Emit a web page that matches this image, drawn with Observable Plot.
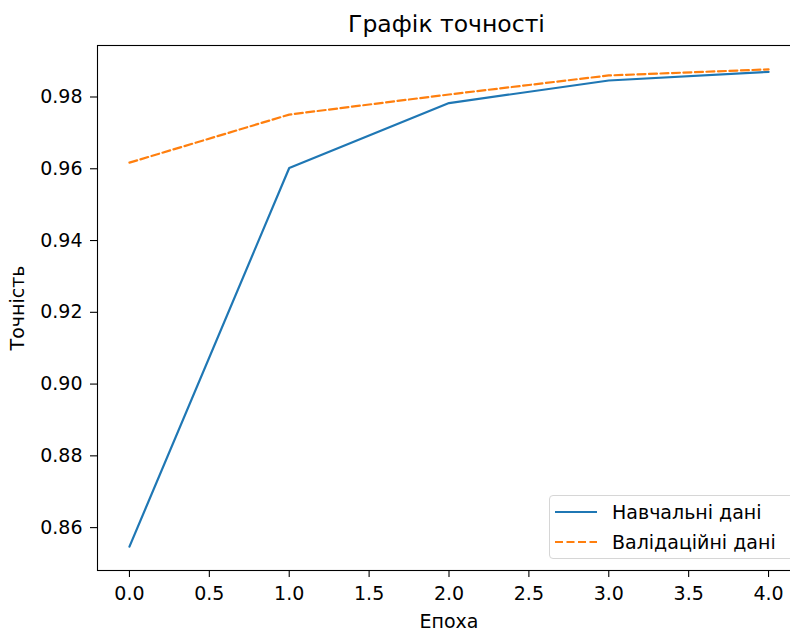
<!DOCTYPE html>
<html>
<head>
<meta charset="utf-8">
<script src="https://cdn.jsdelivr.net/npm/d3@7"></script>
<script src="https://cdn.jsdelivr.net/npm/@observablehq/plot@0.6"></script>
<style>
  html, body { margin: 0; padding: 0; overflow: hidden; background: white; width: 790px; height: 630px; }
  #wrap { position: relative; width: 800px; height: 630px; font-family: "DejaVu Sans", sans-serif; }
  #title { position: absolute; left: 95px; width: 703px; top: 10px; text-align: center; font-size: 23.5px; color: #000; }
  #chart { position: absolute; left: 0; top: 44px; }
  #legend { position: absolute; left: 549px; top: 495px; width: 250px; height: 64px; box-sizing: border-box;
            border: 1px solid #d6d6d6; border-radius: 4px; background: rgba(255,255,255,0.85); }
  .row { position: absolute; left: 0; height: 24px; display: flex; align-items: center; font-size: 19px; color: #000; white-space: nowrap; }
  .row svg { margin-left: 5px; margin-right: 15px; }
</style>
</head>
<body>
<div id="wrap">
  <div id="title"></div>
  <div id="chart"></div>
  <div id="legend"></div>
</div>
<script>
const titleText = "Графік точності";
const xLabel = "Епоха";
const yLabel = "Точність";
const seriesNames = ["Навчальні дані", "Валідаційні дані"];
const seriesColors = ["#1f77b4", "#ff7f0e"];
const epochs = [0, 1, 2, 3, 4];
const trainAcc = [0.8547, 0.9602, 0.9783, 0.9846, 0.9870];
const valAcc = [0.9617, 0.9751, 0.9807, 0.9860, 0.9877];
const xTicks = [0, 0.5, 1, 1.5, 2, 2.5, 3, 3.5, 4];
const yTicks = [0.86, 0.88, 0.90, 0.92, 0.94, 0.96, 0.98];

document.getElementById("title").textContent = titleText;

const trainRows = epochs.map((e, i) => ({epoch: e, acc: trainAcc[i]}));
const valRows = epochs.map((e, i) => ({epoch: e, acc: valAcc[i]}));

const chart = Plot.plot({
  width: 800,
  height: 586,
  marginTop: 1,
  marginLeft: 97,
  marginRight: 0,
  marginBottom: 60,
  style: {fontFamily: "DejaVu Sans", fontSize: "19px", color: "#000", background: "white", overflow: "visible"},
  x: {domain: [-0.2, 4.2]},
  y: {domain: [0.84805, 0.99435]},
  marks: [
    Plot.axisX(xTicks, {tickSize: 7, tickPadding: 9, tickFormat: d3.format(".1f"), label: xLabel, labelAnchor: "center", labelArrow: "none", labelOffset: 57, strokeWidth: 1.1}),
    Plot.axisY(yTicks, {tickSize: 7, tickPadding: 8, tickFormat: d3.format(".2f"), label: yLabel, labelAnchor: "center", labelArrow: "none", labelOffset: 87, strokeWidth: 1.1}),
    Plot.line(trainRows, {x: "epoch", y: "acc", stroke: seriesColors[0], strokeWidth: 2.2}),
    Plot.line(valRows, {x: "epoch", y: "acc", stroke: seriesColors[1], strokeWidth: 2.2, strokeDasharray: "8,3.5"}),
    Plot.frame({stroke: "#000", strokeWidth: 1.1})
  ]
});
document.getElementById("chart").appendChild(chart);

const legend = document.getElementById("legend");
seriesNames.forEach((name, i) => {
  const row = document.createElement("div");
  row.className = "row";
  row.style.top = (4 + i * 30) + "px";
  const dash = i === 1 ? 'stroke-dasharray="8,3.5"' : '';
  row.innerHTML = `<svg width="42" height="6"><line x1="0" y1="3" x2="42" y2="3" stroke="${seriesColors[i]}" stroke-width="2.2" ${dash}/></svg><span></span>`;
  row.querySelector("span").textContent = name;
  legend.appendChild(row);
});
</script>
</body>
</html>
